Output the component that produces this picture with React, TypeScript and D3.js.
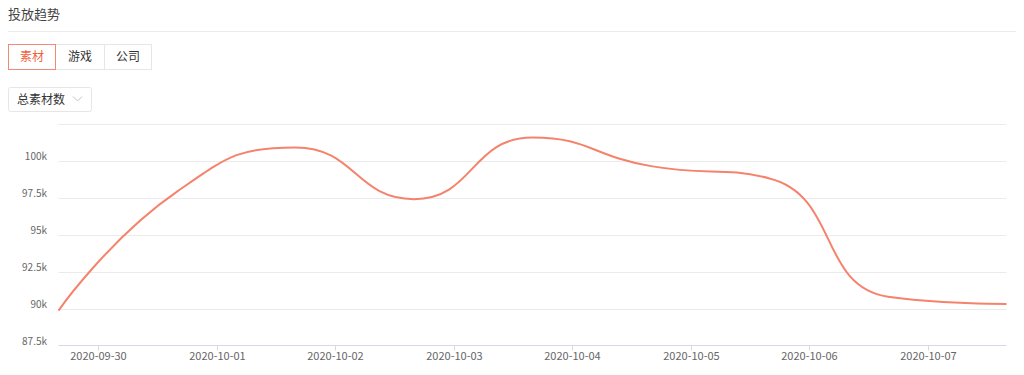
import React from "react";
import * as d3 from "d3";

const dates = [
  "2020-09-29 16:00", "2020-09-30 16:00", "2020-10-01 16:00", "2020-10-02 16:00",
  "2020-10-03 16:00", "2020-10-04 16:00", "2020-10-05 16:00", "2020-10-06 16:00",
  "2020-10-07 16:00",
];
const values = [89860, 97900, 100880, 97390, 101550, 99620, 98790, 90800, 90310];
const yTicks = [87500, 90000, 92500, 95000, 97500, 100000, 102500];
const yTickLabels = ["87.5k", "90k", "92.5k", "95k", "97.5k", "100k", ""];
const xTickDates = ["2020-09-30", "2020-10-01", "2020-10-02", "2020-10-03", "2020-10-04", "2020-10-05", "2020-10-06", "2020-10-07"];
const tabs = ["素材", "游戏", "公司"];
const title = "投放趋势";
const dropdownLabel = "总素材数";

const parse = d3.timeParse("%Y-%m-%d %H:%M");
const parseDay = d3.timeParse("%Y-%m-%d");

function smoothPath(pts: [number, number][], smooth = 0.5): string {
  const p = d3.path();
  let cpx0 = 0, cpy0 = 0, prevX = 0, prevY = 0;
  const n = pts.length;
  for (let i = 0; i < n; i++) {
    const [x, y] = pts[i];
    if (i === 0) {
      p.moveTo(x, y);
      cpx0 = x; cpy0 = y;
    } else {
      let cpx1: number, cpy1: number, nextCpx0 = x, nextCpy0 = y;
      if (i === n - 1) {
        cpx1 = x; cpy1 = y;
      } else {
        const [nextX, nextY] = pts[i + 1];
        let vx = nextX - prevX, vy = nextY - prevY;
        const dx0 = x - prevX, dx1 = nextX - x, dy0 = y - prevY, dy1 = nextY - y;
        const lenPrev = Math.sqrt(dx0 * dx0 + dy0 * dy0);
        const lenNext = Math.sqrt(dx1 * dx1 + dy1 * dy1);
        const ratio = lenNext / (lenNext + lenPrev);
        nextCpx0 = x + vx * smooth * ratio;
        nextCpy0 = y + vy * smooth * ratio;
        nextCpx0 = Math.min(nextCpx0, Math.max(nextX, x));
        nextCpy0 = Math.min(nextCpy0, Math.max(nextY, y));
        nextCpx0 = Math.max(nextCpx0, Math.min(nextX, x));
        nextCpy0 = Math.max(nextCpy0, Math.min(nextY, y));
        vx = nextCpx0 - x; vy = nextCpy0 - y;
        cpx1 = x - vx * lenPrev / lenNext;
        cpy1 = y - vy * lenPrev / lenNext;
        cpx1 = Math.min(cpx1, Math.max(prevX, x));
        cpy1 = Math.min(cpy1, Math.max(prevY, y));
        cpx1 = Math.max(cpx1, Math.min(prevX, x));
        cpy1 = Math.max(cpy1, Math.min(prevY, y));
        vx = x - cpx1; vy = y - cpy1;
        nextCpx0 = x + vx * lenNext / lenPrev;
        nextCpy0 = y + vy * lenNext / lenPrev;
      }
      p.bezierCurveTo(cpx0, cpy0, cpx1, cpy1, x, y);
      cpx0 = nextCpx0; cpy0 = nextCpy0;
    }
    prevX = x; prevY = y;
  }
  return p.toString();
}

export default function App() {
  const W = 1024, H = 375;
  const left = 58.5, right = 1006.5, top = 123.5, bottom = 345.5;
  const x = d3.scaleTime()
    .domain([parse(dates[0])!, parse(dates[dates.length - 1])!])
    .range([left, right]);
  const y = d3.scaleLinear().domain([87500, 102500]).range([bottom, top]);
  const pts: [number, number][] = dates.map((d, i) => [x(parse(d)!), y(values[i])]);
  const font = "'Noto Sans CJK SC', 'Noto Sans', sans-serif";
  const tabX = [8.5, 55.5, 104.5, 151.5];

  return (
    <svg width={W} height={H} style={{ position: "absolute", left: 0, top: 0, fontFamily: font }}>
      <rect width={W} height={H} fill="#fff" />
      <text x={8} y={19} fontSize={13} fill="#444">{title}</text>
      <line x1={8} x2={1016} y1={31.5} y2={31.5} stroke="#ebebeb" />
      {tabs.map((t, i) => (
        <g key={t}>
          <rect x={tabX[i]} y={44.5} width={tabX[i + 1] - tabX[i]} height={25} fill="#fff"
            stroke={i === 0 ? "none" : "#e6e6e6"} />
          <text x={(tabX[i] + tabX[i + 1]) / 2} y={61} fontSize={12} textAnchor="middle"
            fill={i === 0 ? "#f0603f" : "#333"}>{t}</text>
        </g>
      ))}
      <rect x={tabX[0]} y={44.5} width={tabX[1] - tabX[0]} height={25} fill="none" stroke="#f08a74" />
      <rect x={8.5} y={87.5} width={83} height={24} fill="#fff" stroke="#e6e6e6" rx={2} />
      <text x={17} y={104} fontSize={12} fill="#333">{dropdownLabel}</text>
      <path d="M73,96.5 L77.5,101 L82,96.5" fill="none" stroke="#c0c4cc" strokeWidth={1} />
      {yTicks.map((v, i) => (
        <g key={v}>
          {i > 0 && <line x1={left} x2={right} y1={Math.round(y(v)) + 0.5} y2={Math.round(y(v)) + 0.5} stroke="#ebebeb" />}
          <text x={47} y={y(v) - 1} fontSize={10} fill="#666" textAnchor="end">{yTickLabels[i]}</text>
        </g>
      ))}
      <line x1={left} x2={right} y1={bottom} y2={bottom} stroke="#d5d8e6" />
      {xTickDates.map((d) => {
        const xx = Math.round(x(parseDay(d)!)) + 0.5;
        return (
          <g key={d}>
            <line x1={xx} x2={xx} y1={bottom} y2={bottom + 5} stroke="#d5d8e6" />
            <text x={xx} y={360} fontSize={11} fill="#666" textAnchor="middle">{d}</text>
          </g>
        );
      })}
      <path d={smoothPath(pts)} fill="none" stroke="#f5836c" strokeWidth={2} strokeLinejoin="round" />
    </svg>
  );
}
